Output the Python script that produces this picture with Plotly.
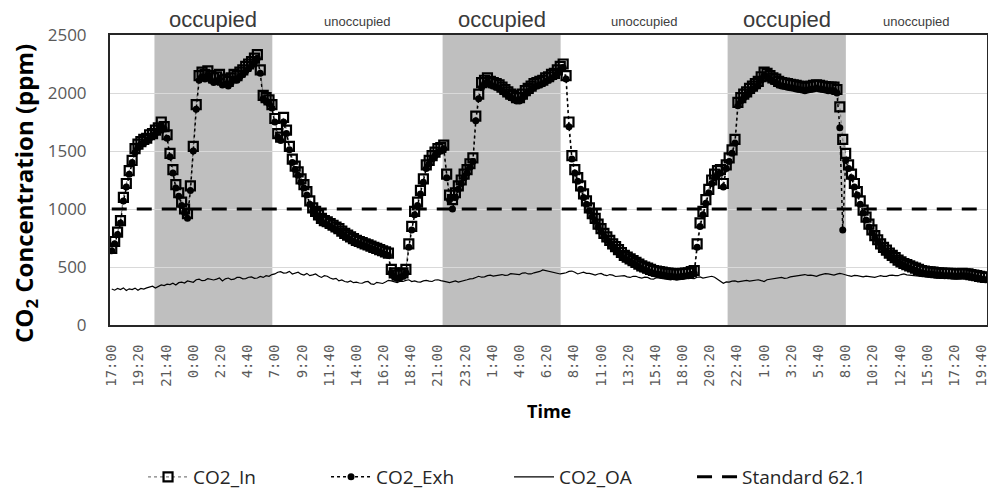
import plotly.graph_objects as go

# ---------------- data ----------------
TIME_STEP_MIN = 15          # spacing of the listed readings, minutes after 17:00 of day 1

CO2_IN = [
    660, 720, 800, 900, 1100, 1220, 1330, 1420, 1520, 1560, 1580, 1600,
    1610, 1640, 1650, 1680, 1700, 1750, 1710, 1640, 1480, 1340, 1210, 1140,
    1060, 1000, 960, 1200, 1540, 1900, 2150, 2180, 2160, 2190, 2150, 2130,
    2140, 2160, 2110, 2120, 2100, 2130, 2160, 2150, 2180, 2200, 2230, 2250,
    2270, 2300, 2330, 2200, 1980, 1960, 1940, 1900, 1780, 1650, 1620, 1790,
    1680, 1540, 1430, 1370, 1320, 1260, 1210, 1150, 1070, 1010, 980, 950,
    920, 900, 890, 875, 860, 845, 830, 810, 790, 775, 760, 745,
    730, 720, 710, 700, 690, 680, 670, 660, 650, 640, 630, 620,
    480, 450, 430, 440, 450, 480, 700, 850, 980, 1060, 1160, 1260,
    1380, 1420, 1460, 1490, 1520, 1530, 1550, 1300, 1120, 1080, 1140, 1200,
    1250, 1300, 1340, 1390, 1440, 1800, 1990, 2090, 2110, 2130, 2100, 2090,
    2080, 2070, 2050, 2030, 2010, 1990, 1980, 1960, 1960, 1990, 2020, 2040,
    2060, 2080, 2090, 2100, 2110, 2130, 2140, 2160, 2170, 2200, 2230, 2250,
    2150, 1750, 1460, 1340, 1270, 1200, 1130, 1070, 1010, 960, 920, 870,
    830, 790, 760, 730, 700, 675, 650, 625, 600, 585, 570, 555,
    540, 525, 510, 500, 490, 480, 470, 465, 460, 455, 450, 448,
    445, 442, 440, 442, 445, 448, 450, 460, 470, 700, 880, 980,
    1080, 1170, 1250, 1300, 1330, 1340, 1220, 1380, 1440, 1510, 1600, 1920,
    1960, 1990, 2010, 2040, 2060, 2080, 2100, 2140, 2180, 2170, 2150, 2130,
    2120, 2100, 2090, 2085, 2080, 2075, 2070, 2065, 2060, 2055, 2050, 2055,
    2060, 2065, 2070, 2065, 2060, 2055, 2050, 2050, 2050, 2030, 1880, 1600,
    1480, 1380, 1300, 1220, 1150, 1070, 990, 930, 870, 820, 770, 735,
    700, 670, 645, 620, 600, 580, 560, 545, 530, 520, 510, 500,
    490, 480, 470, 465, 460, 458, 455, 452, 450, 448, 445, 445,
    445, 442, 440, 442, 445, 442, 440, 435, 430, 425, 420, 415,
    410,
]

CO2_EXH = [
    640, 700, 780, 880, 1070, 1190, 1300, 1400, 1490, 1530, 1560, 1570,
    1590, 1610, 1630, 1650, 1680, 1720, 1690, 1610, 1450, 1310, 1180, 1110,
    1030, 970, 920, 1160, 1500, 1860, 2110, 2140, 2120, 2150, 2110, 2090,
    2100, 2120, 2070, 2080, 2060, 2090, 2120, 2110, 2140, 2160, 2190, 2210,
    2240, 2270, 2300, 2170, 1950, 1930, 1910, 1870, 1750, 1620, 1590, 1750,
    1650, 1510, 1400, 1340, 1290, 1230, 1180, 1120, 1040, 985, 955, 925,
    895, 875, 865, 850, 835, 820, 805, 785, 765, 750, 735, 720,
    710, 700, 690, 680, 670, 660, 650, 640, 630, 620, 610, 600,
    450, 420, 400, 410, 420, 450, 670, 820, 950, 1030, 1130, 1230,
    1350, 1390, 1430, 1460, 1490, 1500, 1520, 1270, 1080, 1000, 1100, 1170,
    1220, 1270, 1310, 1360, 1410, 1760, 1950, 2050, 2080, 2100, 2070, 2060,
    2050, 2040, 2020, 2000, 1980, 1960, 1950, 1930, 1930, 1960, 1990, 2010,
    2030, 2050, 2060, 2070, 2080, 2100, 2110, 2130, 2140, 2170, 2200, 2220,
    2120, 1710, 1430, 1310, 1240, 1170, 1100, 1040, 985, 935, 895, 845,
    805, 765, 735, 705, 675, 650, 625, 600, 575, 560, 545, 530,
    515, 500, 485, 475, 465, 455, 445, 440, 435, 430, 425, 420,
    418, 415, 412, 415, 418, 422, 425, 435, 445, 670, 850, 950,
    1050, 1140, 1220, 1270, 1300, 1310, 1190, 1350, 1410, 1480, 1570, 1890,
    1930, 1960, 1980, 2010, 2030, 2050, 2070, 2110, 2150, 2140, 2120, 2100,
    2090, 2070, 2060, 2055, 2050, 2045, 2040, 2035, 2030, 2025, 2020, 2025,
    2030, 2035, 2040, 2035, 2030, 2025, 2020, 2020, 2020, 2000, 1700, 820,
    1420, 1350, 1270, 1190, 1120, 1040, 965, 905, 845, 795, 750, 715,
    680, 650, 625, 600, 580, 560, 540, 525, 510, 500, 490, 480,
    470, 460, 450, 445, 440, 438, 435, 432, 430, 428, 425, 425,
    425, 422, 420, 422, 425, 422, 420, 415, 410, 405, 400, 395,
    390,
]

CO2_OA = [
    310, 300, 315, 305, 320, 298, 312, 305, 318, 300, 315, 310,
    320, 325, 335, 318, 330, 345, 340, 352, 348, 360, 345, 365,
    370, 362, 380, 375, 368, 390, 395, 382, 385, 400, 395, 388,
    395, 405, 380, 398, 405, 392, 395, 410, 410, 398, 400, 412,
    415, 402, 405, 418, 410, 425, 420, 435, 440, 455, 460, 448,
    450, 462, 440, 448, 455, 438, 430, 445, 425, 432, 440, 422,
    410, 425, 420, 405, 395, 402, 380, 388, 375, 370, 380, 365,
    370, 362, 360, 372, 375, 355, 350, 368, 365, 358, 370, 385,
    380, 370, 365, 378, 375, 385, 390, 375, 380, 372, 370, 380,
    385, 378, 375, 388, 390, 382, 380, 372, 365, 375, 380, 370,
    375, 385, 390, 398, 400, 410, 420, 412, 415, 425, 430, 422,
    425, 432, 435, 428, 430, 442, 440, 435, 435, 448, 450, 440,
    440, 450, 455, 462, 475, 470, 465, 458, 455, 448, 440, 445,
    450, 462, 465, 455, 440, 448, 455, 445, 445, 438, 430, 440,
    445, 432, 425, 435, 430, 418, 420, 428, 425, 415, 410, 420,
    420, 410, 405, 412, 410, 398, 395, 408, 405, 398, 400, 392,
    390, 402, 405, 395, 395, 408, 410, 402, 400, 412, 415, 405,
    410, 418, 420, 412, 395, 380, 360, 372, 370, 378, 380, 372,
    375, 382, 385, 378, 380, 388, 390, 382, 375, 390, 395, 400,
    400, 408, 410, 402, 405, 415, 420, 425, 425, 432, 435, 428,
    430, 425, 420, 430, 435, 442, 440, 432, 430, 438, 445, 440,
    430, 425, 420, 428, 425, 418, 415, 422, 420, 412, 410, 418,
    425, 420, 420, 428, 430, 425, 425, 435, 440, 432, 430, 428,
    425, 422, 420, 428, 430, 420, 415, 422, 425, 418, 420, 425,
    410, 418, 425, 420, 415, 422, 420, 412, 410, 405, 405, 412,
    410,
]

STANDARD_62_1 = 1000

TICK_STEP_MIN = 140
TICK_LABELS = [
    "17:00", "19:20", "21:40", "0:00", "2:20", "4:40", "7:00", "9:20", "11:40",
    "14:00", "16:20", "18:40", "21:00", "23:20", "1:40", "4:00", "6:20", "8:40",
    "11:00", "13:20", "15:40", "18:00", "20:20", "22:40", "1:00", "3:20", "5:40",
    "8:00", "10:20", "12:40", "15:00", "17:20", "19:40",
]

# occupied periods, minutes after 17:00 of day 1
OCCUPIED_START = [220, 1704, 3172]
OCCUPIED_END = [827, 2312, 3781]

Y_TICKS = [0, 500, 1000, 1500, 2000, 2500]
X_RANGE = [-9, 4508]

# ---------------- figure ----------------
time_min = [i * TIME_STEP_MIN for i in range(len(CO2_IN))]
tickvals = [i * TICK_STEP_MIN for i in range(len(TICK_LABELS))]

fig = go.Figure()

fig.add_trace(go.Scatter(
    x=time_min, y=CO2_OA, name="CO2_OA", mode="lines",
    line=dict(color="#000000", width=1.2), legendrank=3,
))
fig.add_trace(go.Scatter(
    x=[time_min[0], time_min[-1]], y=[STANDARD_62_1, STANDARD_62_1],
    name="Standard 62.1", mode="lines",
    line=dict(color="#000000", width=3, dash="15px,10px"), legendrank=4,
))
fig.add_trace(go.Scatter(
    x=time_min, y=CO2_IN, name="CO2_In", mode="lines+markers",
    line=dict(color="#7f7f7f", width=1.2, dash="dot"),
    marker=dict(symbol="square-open", size=9, color="#000000",
                line=dict(width=2.2, color="#000000")),
    legendrank=1,
))
fig.add_trace(go.Scatter(
    x=time_min, y=CO2_EXH, name="CO2_Exh", mode="lines+markers",
    line=dict(color="#000000", width=1.5, dash="dot"),
    marker=dict(symbol="circle", size=7, color="#000000"),
    legendrank=2,
))

shapes = []
for s, e in zip(OCCUPIED_START, OCCUPIED_END):
    shapes.append(dict(type="rect", xref="x", yref="paper", x0=s, x1=e, y0=0, y1=1,
                       fillcolor="#bfbfbf", line=dict(width=0), layer="below"))

annotations = []
for s, e in zip(OCCUPIED_START, OCCUPIED_END):
    annotations.append(dict(x=(s + e) / 2, y=1.052, xref="x", yref="paper",
                            text="occupied", showarrow=False, xanchor="center", yanchor="middle",
                            font=dict(family="Liberation Sans", size=22, color="#3a3a3a")))
un_bounds = list(zip(OCCUPIED_END, OCCUPIED_START[1:] + [X_RANGE[1]]))
for s, e in un_bounds:
    annotations.append(dict(x=(s + e) / 2, y=1.045, xref="x", yref="paper",
                            text="unoccupied", showarrow=False, xanchor="center", yanchor="middle",
                            font=dict(family="Liberation Sans", size=13, color="#404040")))
annotations.append(dict(x=-0.097, y=0.455, xref="paper", yref="paper",
                        text="CO<sub>2</sub> Concentration (ppm)", textangle=-90,
                        showarrow=False, xanchor="center", yanchor="middle",
                        font=dict(family="Open Sans", size=24, color="#000000", weight="bold")))
annotations.append(dict(x=0.5, y=-0.297, xref="paper", yref="paper", text="Time",
                        showarrow=False, xanchor="center", yanchor="middle",
                        font=dict(family="Open Sans", size=18, color="#000000", weight="bold")))

fig.update_layout(
    width=988, height=490,
    margin=dict(l=110, r=1, t=35, b=165, pad=0, autoexpand=False),
    paper_bgcolor="#ffffff", plot_bgcolor="#ffffff",
    shapes=shapes, annotations=annotations,
    showlegend=True,
    legend=dict(orientation="h", x=0.455, xanchor="center", y=-0.524, yanchor="middle",
                font=dict(family="Open Sans", size=19, color="#262626"),
                bgcolor="rgba(0,0,0,0)", itemwidth=40,
                entrywidth=128, entrywidthmode="pixels"),
    xaxis=dict(
        range=X_RANGE, tickmode="array", tickvals=tickvals, ticktext=TICK_LABELS,
        tickangle=-90, showgrid=False, zeroline=False, automargin=False,
        showline=True, linecolor="#262626", linewidth=2, mirror=True,
        ticks="", ticklabelstandoff=12, ticklabeloverflow="allow",
        tickfont=dict(family="DejaVu Sans Mono", size=14, color="#595959"),
    ),
    yaxis=dict(
        range=[0, 2500], tickmode="array", tickvals=Y_TICKS, automargin=False,
        showgrid=True, gridcolor="#d9d9d9", gridwidth=1, zeroline=False,
        showline=True, linecolor="#262626", linewidth=2, mirror=True,
        ticks="", ticklabelstandoff=18,
        tickfont=dict(family="Open Sans", size=17, color="#595959"),
    ),
)

fig.write_html(
    "out.html",
    config={"displayModeBar": False},
    post_script="document.body.style.margin='0';document.body.style.overflow='hidden';",
)
